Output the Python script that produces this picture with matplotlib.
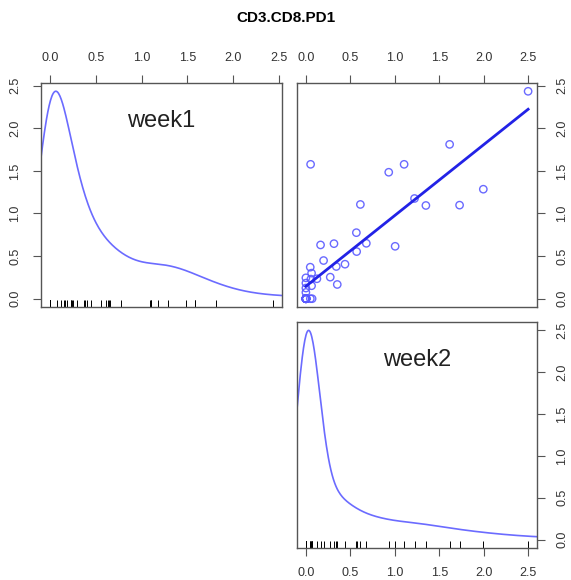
import numpy as np
import matplotlib
matplotlib.use("Agg")
import matplotlib.pyplot as plt

plt.rcParams['font.family'] = ['Liberation Sans', 'DejaVu Sans']

# values (x = week2, y = week1);
# the last 12 pairs sit on top of each other at the origin
week2 = [2.5, 1.617, 0.053, 0.932, 1.105, 1.996, 1.222, 0.613, 1.35, 1.729,
         0.568, 0.165, 0.316, 0.68, 1.004, 0.571, 0.199, 0.44, 0.342, 0.049,
         0.064, 0.0, 0.056, 0.124, 0.274, 0.353, 0.0, 0.064, 0.0, 0.0,
         0.0, 0.004, 0.05, 0.07,
         0.0, 0.0, 0.0, 0.0, 0.0, 0.0, 0.0, 0.0, 0.0, 0.0, 0.0, 0.0]
week1 = [2.434, 1.811, 1.577, 1.484, 1.577, 1.285, 1.176, 1.106, 1.094, 1.098,
         0.775, 0.631, 0.646, 0.65, 0.615, 0.553, 0.448, 0.405, 0.378, 0.37,
         0.3, 0.245, 0.23, 0.234, 0.253, 0.167, 0.183, 0.152, 0.125, 0.074,
         0.0, 0.0, 0.0, 0.0,
         0.0, 0.0, 0.0, 0.0, 0.0, 0.0, 0.0, 0.0, 0.0, 0.0, 0.0, 0.0]
labels = ['week1', 'week2']
title = 'CD3.CD8.PD1'
ticks = [0.0, 0.5, 1.0, 1.5, 2.0, 2.5]

w1 = np.array(week1)
w2 = np.array(week2)


def lims(v):
    # R style 4% extension
    r = v.max() - v.min()
    return (v.min() - 0.04 * r, v.max() + 0.04 * r)


def gauss(u):
    return np.exp(-0.5 * u ** 2) / np.sqrt(2 * np.pi)


def adaptive_kde(v, alpha=0.5, cut=3, n=500):
    # adaptive kernel density, pilot bandwidth = bw.nrd0
    m = len(v)
    iqr = np.subtract(*np.percentile(v, [75, 25]))
    bw = 0.9 * min(v.std(ddof=1), iqr / 1.34) * m ** -0.2
    pilot = gauss((v[:, None] - v[None, :]) / bw).sum(1) / (m * bw)
    g = np.exp(np.mean(np.log(pilot)))
    h = bw * (pilot / g) ** -alpha
    grid = np.linspace(v.min() - cut * bw, v.max() + cut * bw, n)
    d = (gauss((grid[:, None] - v[None, :]) / h[None, :]) / h[None, :]).sum(1) / m
    return grid, d


fig = plt.figure(figsize=(5.71, 5.80), dpi=100)
W, H = 571, 580


def box(x0, y0, x1, y1):
    return [x0 / W, 1 - y1 / H, (x1 - x0) / W, (y1 - y0) / H]


ax1 = fig.add_axes(box(41, 83, 282, 307))
ax2 = fig.add_axes(box(297, 83, 537, 307))
ax3 = fig.add_axes(box(297, 322, 537, 548))

dens_col = '#6b6bff'
for ax, v, lab in [(ax1, w1, labels[0]), (ax3, w2, labels[1])]:
    g, d = adaptive_kde(v)
    # density rescaled to the range of the variable
    yd = v.min() + d * (v.max() - v.min()) / (d.max() - d.min())
    ax.plot(g, yd, color=dens_col, lw=1.2)
    ax.vlines(v, 0, 0.03, transform=ax.get_xaxis_transform(), color='black', lw=0.7)
    ax.set_xlim(lims(v))
    ax.set_ylim(lims(v))
    ax.text(0.5, 0.83, lab, transform=ax.transAxes, fontsize=17,
            ha='center', va='center', color='#222222')

ax2.scatter(w2, w1, s=28, facecolors='none', edgecolors='#5a5aff', linewidths=1.0, alpha=0.9)
slope, icpt = np.polyfit(w2, w1, 1)
xs = np.array([w2.min(), w2.max()])
ax2.plot(xs, icpt + slope * xs, color='#2222e6', lw=2)
ax2.set_xlim(lims(w2))
ax2.set_ylim(lims(w1))

for ax in (ax1, ax2, ax3):
    ax.set_xticks(ticks)
    ax.set_yticks(ticks)
    for s in ax.spines.values():
        s.set_color('#555555')
        s.set_linewidth(1.0)
    ax.tick_params(length=6, width=0.8, color='#555555', labelsize=9,
                   labelcolor='#333333', pad=8)
    ax.tick_params(axis='y', labelrotation=90)

# axis sides like R's pairs()
ax1.xaxis.tick_top()
ax1.yaxis.tick_left()
ax2.xaxis.tick_top()
ax2.yaxis.tick_right()
ax3.xaxis.tick_bottom()
ax3.yaxis.tick_right()
for ax in (ax1, ax2, ax3):
    ax.set_yticklabels(['%.1f' % t for t in ticks], va='center')

fig.text(0.5, 1 - 18 / H, title, ha='center', va='center', fontsize=11, fontweight='bold')

fig.savefig('out.png', dpi=100)
